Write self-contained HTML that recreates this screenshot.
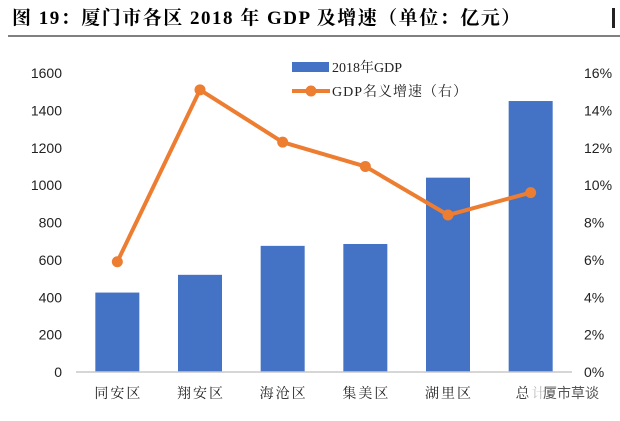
<!DOCTYPE html>
<html><head><meta charset="utf-8"><style>
body{margin:0;background:#fff;width:620px;height:416px;overflow:hidden;font-family:"Liberation Serif","Noto Serif CJK SC",serif}
</style></head><body>
<svg width="620" height="416" xmlns="http://www.w3.org/2000/svg">
<text x="12" y="24" font-size="19" font-weight="bold" letter-spacing="1.5" font-family="Liberation Serif,Noto Serif CJK SC,serif">图 19：厦门市各区 2018 年 GDP 及增速（单位：亿元）</text>
<rect x="612" y="8" width="3" height="20" fill="#222"/>
<line x1="8" y1="36" x2="620" y2="36" stroke="#000" stroke-width="1"/>
<g id="g"></g>
</svg>
<script>
const categories=["同安区","翔安区","海沧区","集美区","湖里区","总计"];
const gdpValues=[425,520,675,685,1040,1450];
const growthValues=[5.9,15.1,12.3,11.0,8.4,9.6];
const leftTicks=[0,200,400,600,800,1000,1200,1400,1600];
const rightTicks=[0,2,4,6,8,10,12,14,16];
const NS="http://www.w3.org/2000/svg";
const g=document.getElementById('g');
const x0=76,x1=572,yb=372,yt=73;
const yL=v=>yb-(v/1600)*(yb-yt);
const yR=v=>yb-(v/16)*(yb-yt);
const band=(x1-x0)/categories.length;
const xc=i=>x0+band*(i+0.5);
function mk(t,a,txt){const e=document.createElementNS(NS,t);for(const k in a)e.setAttribute(k,a[k]);if(txt!==undefined)e.textContent=txt;g.appendChild(e);return e;}
const sans="Liberation Sans,Noto Sans CJK SC,sans-serif";
leftTicks.forEach(v=>{const e=mk('text',{x:62,y:yL(v)+5,'text-anchor':'end','font-size':14,'font-family':sans,fill:'#222'},v);

});
rightTicks.forEach(v=>{const e=mk('text',{x:584,y:yR(v)+5,'font-size':14,'font-family':sans,fill:'#222'},v+'%');

});
gdpValues.forEach((v,i)=>{const e=mk('rect',{x:xc(i)-22,y:yL(v),width:44,height:yb-yL(v),fill:'#4472C4'});

});
const ax=mk('line',{x1:x0,y1:yb,x2:x1,y2:yb,stroke:'#c8c8c8','stroke-width':1.5});


categories.forEach((c,i)=>{const e=mk('text',{x:xc(i)+1,y:398,'text-anchor':'middle','font-size':14,'letter-spacing':2,'font-family':'Noto Serif CJK SC,serif',fill:'#222'},c);

});
const pts=growthValues.map((v,i)=>xc(i)+','+yR(v)).join(' ');
const pl=mk('polyline',{points:pts,fill:'none',stroke:'#ED7D31','stroke-width':4,'stroke-linejoin':'round'});


growthValues.forEach((v,i)=>{const e=mk('circle',{cx:xc(i),cy:yR(v),r:5.5,fill:'#ED7D31'});

});
const l1=mk('rect',{x:292,y:62,width:37,height:10,fill:'#4472C4'});


const t1=mk('text',{x:332,y:72,'font-size':14,'font-family':'Liberation Serif,Noto Serif CJK SC,serif',fill:'#222'},'2018年GDP');


const l2=mk('line',{x1:292,y1:91,x2:330,y2:91,stroke:'#ED7D31','stroke-width':4});


const l3=mk('circle',{cx:311,cy:91,r:5.5,fill:'#ED7D31'});


const t2=mk('text',{x:332,y:96,'font-size':14,'letter-spacing':1,'font-family':'Liberation Serif,Noto Serif CJK SC,serif',fill:'#222'},'GDP名义增速（右）');


const wb=mk('rect',{x:528,y:382,width:20,height:22,fill:'#fff',opacity:0.7});


const w=mk('text',{x:543,y:398,'font-size':14,'font-family':sans,fill:'#555'},'厦市草谈');


</script>
</body></html>
